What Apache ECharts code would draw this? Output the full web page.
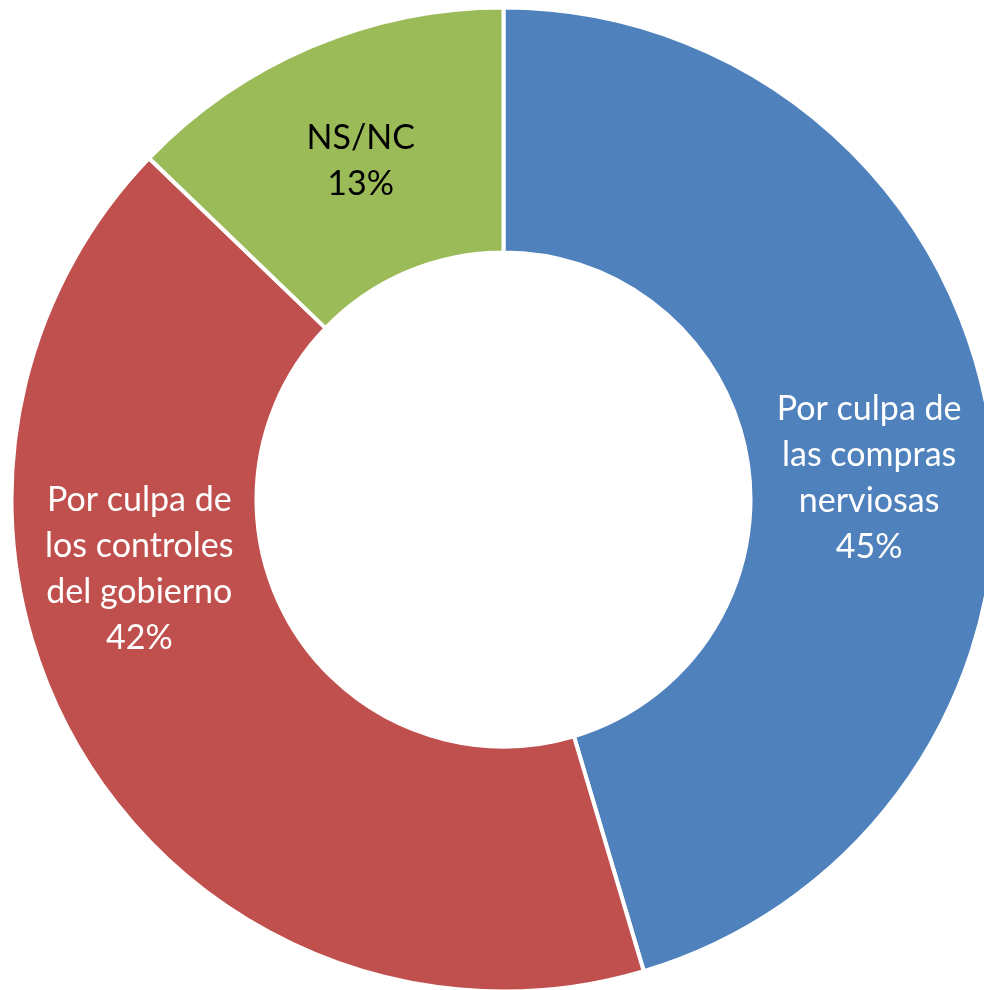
<!DOCTYPE html>
<html>
<head>
<meta charset="utf-8">
<script src="https://cdn.jsdelivr.net/npm/echarts@6/dist/echarts.min.js"></script>
<style>
  html, body { margin: 0; padding: 0; background: #fff; }
  #chart { width: 984px; height: 990px; }
</style>
</head>
<body>
<div id="chart"></div>
<script>
// data (labels show rounded percents)
const categories = ['Por culpa de\nlas compras\nnerviosas', 'Por culpa de\nlos controles\ndel gobierno', 'NS/NC']
const values = [45.4, 41.8, 12.8]
const colors = ['#4F81BD', '#C0504D', '#9BBB59']
const labelColors = ['#ffffff', '#ffffff', '#000000']
// nudge labels to where the original places them
const labelShift = [[-3, 32], [-46, -124], [3, 4]]

const chart = echarts.init(document.getElementById('chart'))

const seriesData = categories.map((name, i) => ({
  name: name,
  value: values[i],
  itemStyle: { color: colors[i] },
  label: { color: labelColors[i] }
}))

chart.setOption({
  backgroundColor: '#fff',
  animation: false,
  series: [{
    type: 'pie',
    center: [503.5, 499.5],
    radius: [247, 492],
    startAngle: 90,
    clockwise: true,
    avoidLabelOverlap: false,
    itemStyle: {
      borderColor: '#fff',
      borderWidth: 4
    },
    label: {
      show: true,
      position: 'inside',
      fontFamily: 'Lato',
      fontSize: 34,
      lineHeight: 46,
      align: 'center',
      formatter: function (p) {
        return p.name + '\n' + Math.round(p.percent) + '%'
      }
    },
    labelLine: { show: false },
    labelLayout: function (params) {
      const s = labelShift[params.dataIndex]
      return { dx: s[0], dy: s[1] }
    },
    emphasis: { disabled: true },
    data: seriesData
  }]
})
</script>
</body>
</html>
